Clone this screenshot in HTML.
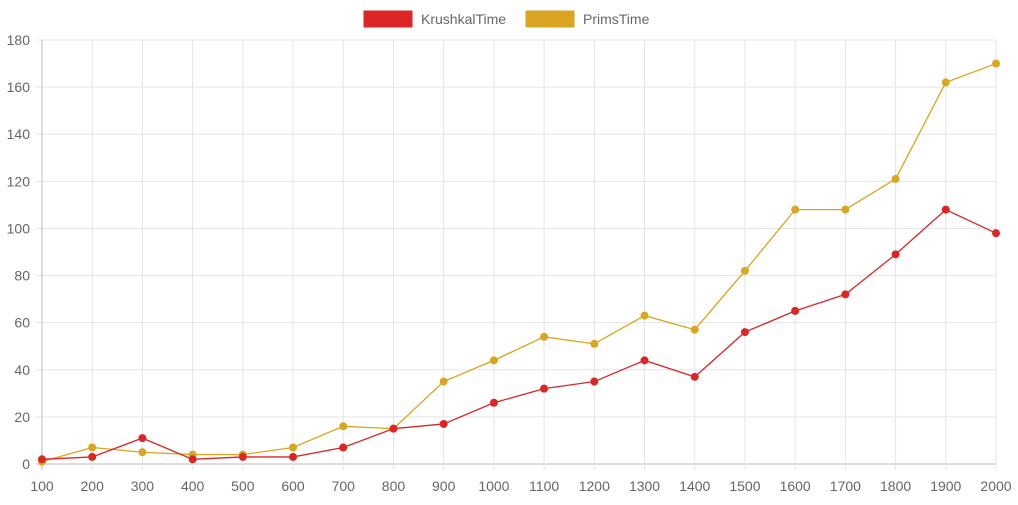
<!DOCTYPE html>
<html><head><meta charset="utf-8"><style>
body{margin:0;background:#fff;font-family:"Liberation Sans",sans-serif}
svg text{font-family:"Liberation Sans",sans-serif;font-size:14px;fill:#666}
</style></head><body>
<svg id="chart" width="1018" height="500">
<g>
<g><rect x="363" y="10" width="50" height="18" fill="#dc2626" stroke="#fff"/><text x="421" y="24">KrushkalTime</text></g>
<g><rect x="525" y="10" width="50" height="18" fill="#daa520" stroke="#fff"/><text x="583" y="24">PrimsTime</text></g>
</g>
<g id="grid"></g><g id="series"></g>
</svg>
<script>
const categories=[100,200,300,400,500,600,700,800,900,1000,1100,1200,1300,1400,1500,1600,1700,1800,1900,2000];
const krushkal=[2,3,11,2,3,3,7,15,17,26,32,35,44,37,56,65,72,89,108,98];
const prims=[1,7,5,4,4,7,16,15,35,44,54,51,63,57,82,108,108,121,162,170];
const yTicks=[0,20,40,60,80,100,120,140,160,180];
const X0=42,X1=996,Y0=464,Y1=40,YMAX=180;
const xs=i=>X0+(X1-X0)*i/(categories.length-1);
const ys=v=>Y0-(Y0-Y1)*v/YMAX;
const NS="http://www.w3.org/2000/svg";
const grid=document.getElementById('grid'),ser=document.getElementById('series');
function mk(tag,at,parent){const e=document.createElementNS(NS,tag);for(const k in at)e.setAttribute(k,at[k]);parent.appendChild(e);return e;}
yTicks.forEach(t=>{
 const l=mk('line',{x1:X0-6,x2:X1,y1:ys(t),y2:ys(t),stroke:t===0?'#bbb':'#e5e5e5'},grid);
 
 
 const tx=mk('text',{x:X0-12,y:ys(t)+5,'text-anchor':'end'},grid);tx.textContent=t;
 
 
});
categories.forEach((c,i)=>{
 const l=mk('line',{x1:xs(i),x2:xs(i),y1:Y1,y2:Y0+6,stroke:i===0?'#bbb':'#e5e5e5'},grid);
 
 
 const tx=mk('text',{x:xs(i),y:Y0+27,'text-anchor':'middle'},grid);tx.textContent=c;
 
 
});
function series(data,color,name){
 const p=mk('polyline',{points:data.map((v,i)=>xs(i)+','+ys(v)).join(' '),fill:'none',stroke:color,'stroke-width':1.3},ser);
 
 
 data.forEach((v,i)=>{const c=mk('circle',{cx:xs(i),cy:ys(v),r:4,fill:color},ser);
 
 });
}
series(prims,'#daa520','prims');
series(krushkal,'#dc2626','krushkal');
</script>
</body></html>
